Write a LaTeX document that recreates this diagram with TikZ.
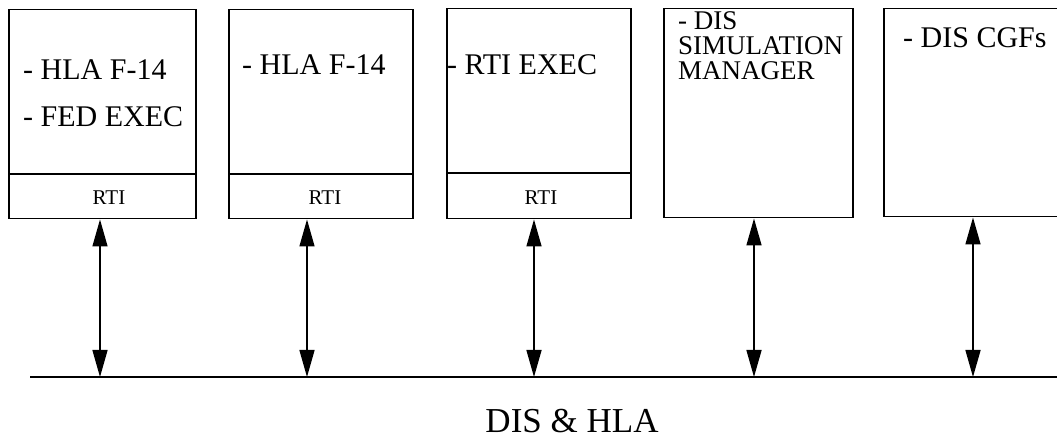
\documentclass[tikz,border=0pt]{standalone}
\usepackage{fontspec}
\setmainfont{Liberation Serif}
\usetikzlibrary{arrows.meta}

\begin{document}
\begin{tikzpicture}[x=1pt, y=-1pt,
		box/.style={draw, line width=1.5pt, inner sep=0pt, anchor=north west},
		link/.style={line width=1.5pt, {Triangle[length=27pt,width=15pt]}-{Triangle[length=27pt,width=15pt]}},
		lbl/.style={inner sep=0pt, anchor=base west, font=\fontsize{30}{25}\selectfont, align=left},
		rti/.style={inner sep=0pt, anchor=base, font=\fontsize{21}{22}\selectfont}]
			%%%%% START %%%%%
			\clip (0, 0) rectangle (1057, 443);
			
			% federates
			\node[box, minimum width=187pt, minimum height=209pt] (fed) at (8, 9) {};
			\node[box, minimum width=184pt, minimum height=209pt] (f14) at (228, 9) {};
			\node[box, minimum width=184pt, minimum height=210pt] (exec) at (446, 8) {};
			\node[box, minimum width=189pt, minimum height=209pt] (simmgr) at (663, 8) {};
			\node[box, minimum width=190pt, minimum height=208pt] (cgf) at (883, 8) {};
			
			% RTI layers
			\draw[line width=1.5pt] (fed.west |- 0, 174) -- (fed.east |- 0, 174);
			\draw[line width=1.5pt] (f14.west |- 0, 174) -- (f14.east |- 0, 174);
			\draw[line width=1.5pt] (exec.west |- 0, 173) -- (exec.east |- 0, 173);
			\node[rti] (rti1) at (109, 205) {RTI};
			\node[rti] (rti2) at (325, 205) {RTI};
			\node[rti] (rti3) at (541, 205) {RTI};
			
			% texts (base = last line)
			\node[lbl] (fedtxt) at (23, 127) {- HLA F-14\\[22pt]- FED EXEC};
			\node[lbl] (f14txt) at (242, 75) {- HLA F-14};
			\node[lbl] (exectxt) at (447, 75) {- RTI EXEC};
			\node[lbl, font=\fontsize{27}{25}\selectfont] (simtxt) at (678, 80) {- DIS\\SIMULATION\\MANAGER};
			\node[lbl] (cgftxt) at (903, 48) {- DIS CGFs};
			
			% network
			\coordinate (busL) at (30, 377);
			\coordinate (busR) at (1057, 377);
			\draw[line width=2.5pt] (busL) -- (busR);
			\coordinate (bus1) at (100, 377);
			\coordinate (bus2) at (307, 377);
			\coordinate (bus3) at (534, 377);
			\coordinate (bus4) at (754, 377);
			\coordinate (bus5) at (973, 377);
			\draw[link] (fed.south -| bus1) -- (bus1);
			\draw[link] (f14.south -| bus2) -- (bus2);
			\draw[link] (exec.south -| bus3) -- (bus3);
			\draw[link] (simmgr.south -| bus4) -- (bus4);
			\draw[link] (cgf.south -| bus5) -- (bus5);
			
			\node[inner sep=0pt, anchor=base, font=\fontsize{35}{40}\selectfont] (title) at (572, 432) {DIS \& HLA};
			%%%%% END %%%%%
		\end{tikzpicture}
\end{document}
